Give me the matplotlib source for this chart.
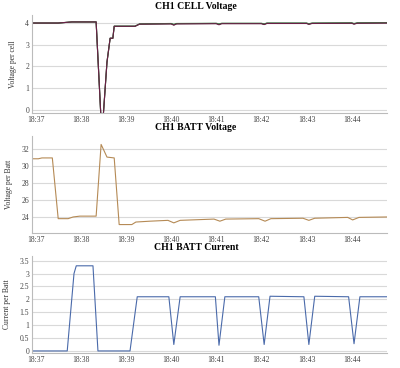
import matplotlib
matplotlib.use("Agg")
import matplotlib.pyplot as plt

plt.rcParams['font.family'] = ['Liberation Serif', 'DejaVu Serif']

# time in minutes after 18:00
minute_ticks = [37, 38, 39, 40, 41, 42, 43, 44]
minute_labels = ["18:37", "18:38", "18:39", "18:40", "18:41", "18:42", "18:43", "18:44"]

# CH1 cell voltage (three cells)
cell_t = [36.92, 37.5, 37.8, 38.34, 38.45, 38.49, 38.58, 38.65, 38.71, 38.74, 39.2, 39.3,
          40.0, 40.06, 40.12, 41.0, 41.06, 41.12, 42.0, 42.06, 42.12, 43.0, 43.05, 43.12,
          44.0, 44.05, 44.12, 44.78]
cell_a = [4.0, 4.0, 4.05, 4.05, -0.5, -0.5, 2.2, 3.3, 3.3, 3.85, 3.85, 3.95,
          3.96, 3.9, 3.96, 3.97, 3.92, 3.97, 3.97, 3.93, 3.98, 3.98, 3.94, 3.98,
          3.99, 3.95, 3.99, 4.0]
cell_b = [4.0, 4.0, 4.05, 4.05, -0.5, -0.5, 2.2, 3.3, 3.3, 3.86, 3.86, 3.96,
          3.98, 3.94, 3.98, 3.99, 3.96, 3.99, 3.99, 3.96, 4.0, 4.0, 3.97, 4.0,
          4.01, 3.98, 4.01, 4.02]
cell_c = [4.0, 4.0, 4.05, 4.05, -0.5, -0.5, 2.2, 3.3, 3.3, 3.85, 3.85, 3.95,
          3.97, 3.92, 3.97, 3.98, 3.94, 3.98, 3.98, 3.94, 3.99, 3.99, 3.95, 3.99,
          4.0, 3.96, 4.0, 4.01]

# CH1 battery voltage
batt_t = [36.92, 37.06, 37.14, 37.37, 37.5, 37.72, 37.83, 37.98, 38.34, 38.45, 38.52, 38.58,
          38.74, 38.85, 39.13, 39.22, 39.53, 39.93, 40.06, 40.2, 40.95, 41.08, 41.21, 41.94,
          42.08, 42.21, 42.92, 43.05, 43.18, 43.91, 44.02, 44.16, 44.78]
batt_v = [30.9, 30.9, 31.0, 31.0, 23.8, 23.8, 24.0, 24.1, 24.1, 32.6, 31.8, 31.1,
          31.0, 23.1, 23.1, 23.4, 23.5, 23.6, 23.3, 23.6, 23.75, 23.5, 23.75, 23.8,
          23.5, 23.8, 23.85, 23.6, 23.85, 23.95, 23.65, 23.95, 24.0]

# CH1 battery current
curr_t = [36.92, 37.7, 37.85, 37.9, 38.27, 38.38, 39.09, 39.25, 39.95, 40.06, 40.2,
          40.98, 41.06, 41.19, 41.94, 42.06, 42.19, 42.94, 43.05, 43.18,
          43.93, 44.05, 44.18, 44.78]
curr_a = [0.0, 0.0, 3.0, 3.3, 3.3, 0.0, 0.0, 2.1, 2.1, 0.25, 2.1,
          2.1, 0.22, 2.1, 2.1, 0.25, 2.12, 2.1, 0.25, 2.12,
          2.1, 0.28, 2.1, 2.1]

fig = plt.figure(figsize=(4.0, 3.68), dpi=100)
W, H = 400.0, 368.0


def panel(top, bottom, title, ylabel, ylim, yticks, ylabels):
    ax = fig.add_axes([32 / W, 1 - bottom / H, 355 / W, (bottom - top) / H])
    ax.set_xlim(36.92, 44.78)
    ax.set_ylim(*ylim)
    ax.set_xticks(minute_ticks)
    ax.set_xticklabels(minute_labels)
    ax.set_yticks(yticks)
    ax.set_yticklabels(ylabels)
    ax.tick_params(length=0, labelsize=5.5, colors='#444444', pad=2)
    ax.grid(axis='y', color='#d9d9d9', linewidth=0.8)
    ax.set_axisbelow(True)
    for s in ['top', 'right']:
        ax.spines[s].set_visible(False)
    for s in ['left', 'bottom']:
        ax.spines[s].set_color('#bbbbbb')
        ax.spines[s].set_linewidth(0.8)
    ax.set_title(title, fontsize=7, fontweight='bold', pad=4, x=(196 - 32) / 355)
    ax.set_ylabel(ylabel, fontsize=5.5, color='#333333', labelpad=6)
    return ax


ax1 = panel(15, 113, "CH1 CELL Voltage", "Voltage per cell", (-0.14, 4.37),
            [0, 1, 2, 3, 4], ["0", "1", "2", "3", "4"])
ax1.plot(cell_t, cell_c, color='#222222', lw=0.8)
ax1.plot(cell_t, cell_b, color='#3d8a4a', lw=0.8)
ax1.plot(cell_t, cell_a, color='#6a1f45', lw=0.8)

ax2 = panel(136, 233, "CH1 BATT Voltage", "Voltage per Batt", (22.1, 33.6),
            [24, 26, 28, 30, 32], ["24", "26", "28", "30", "32"])
ax2.plot(batt_t, batt_v, color='#b58a55', lw=0.8)

ax3 = panel(256, 353, "CH1 BATT Current", "Current per Batt", (-0.08, 3.68),
            [0, 0.5, 1, 1.5, 2, 2.5, 3, 3.5],
            ["0", "0.5", "1", "1.5", "2", "2.5", "3", "3.5"])
ax3.plot(curr_t, curr_a, color='#4a6aaa', lw=0.8)

fig.savefig("out.png", dpi=100)
